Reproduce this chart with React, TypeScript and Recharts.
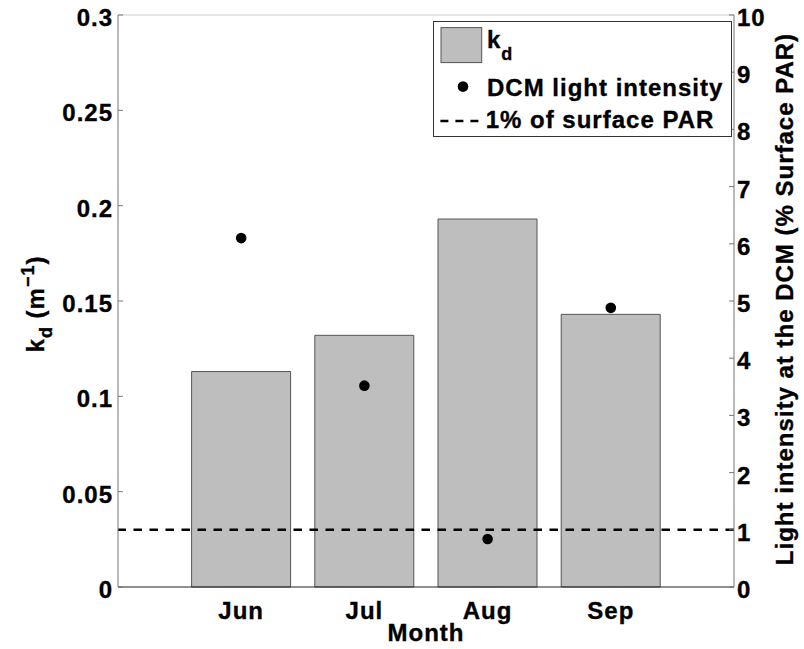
import React from "react";
import {
  ComposedChart, Bar, Scatter, XAxis, YAxis, ReferenceLine, Legend
} from "recharts";

// values
const months = ["Jun", "Jul", "Aug", "Sep"];
const kdValues = [0.113, 0.132, 0.193, 0.143];
const dcmLightValues = [6.1, 3.52, 0.84, 4.88];
const surfaceParLevel = 1;
const kdTicks = [0, 0.05, 0.1, 0.15, 0.2, 0.25, 0.3];
const lightTicks = [0, 1, 2, 3, 4, 5, 6, 7, 8, 9, 10];

const chartData = months.map((month, i) => ({
  month,
  kd: kdValues[i],
  dcm: dcmLightValues[i],
}));

const FONT = '"Liberation Sans", Arial, Helvetica, sans-serif';
const textStyle = {
  fontFamily: FONT, fontWeight: 700, fontSize: 24, letterSpacing: 1,
  fill: "#000", stroke: "#000", strokeWidth: 0.35,
};

const LeftTick = ({ x, y, payload }: any) => (
  <g>
    <line x1={x + 5} x2={x + 10} y1={y} y2={y} stroke="#777" />
    <text x={x} y={y} dy={11} textAnchor="end" style={textStyle}>{payload.value}</text>
  </g>
);

const RightTick = ({ x, y, payload }: any) => (
  <g>
    <line x1={x - 3} x2={x - 8} y1={y} y2={y} stroke="#777" />
    <text x={x} y={y} dy={11} textAnchor="start" style={textStyle}>{payload.value}</text>
  </g>
);

const BottomTick = ({ x, y, payload }: any) => (
  <text x={x} y={y} dy={30} textAnchor="middle" style={textStyle}>{payload.value}</text>
);

const Dot = (props: any) => <circle cx={props.cx} cy={props.cy} r={5.3} fill="#000" />;

const LegendBox = () => (
  <div style={{ width: 299, height: 116, border: "1px solid #333", background: "#fff", boxSizing: "border-box" }}>
    <svg width={297} height={114} style={{ display: "block" }}>
      <rect x={7} y={5.6} width={40.7} height={35} fill="#bebebe" stroke="#555" />
      <text x={53} y={25.6} style={textStyle}>
        k<tspan dy={12} style={{ fontSize: 18 }}>d</tspan>
      </text>
      <circle cx={29} cy={64.6} r={5.3} fill="#000" />
      <text x={53} y={74} style={textStyle}>DCM light intensity</text>
      <line x1={6.4} x2={48.7} y1={99} y2={99} stroke="#000" strokeWidth={2.5} strokeDasharray="8 7" />
      <text x={51.7} y={106} style={textStyle}>1% of surface PAR</text>
    </svg>
  </div>
);

const LeftLabel = () => (
  <text x={44} y={304} transform="rotate(-90 44 304)" textAnchor="middle" style={textStyle}>
    k<tspan dy={8} style={{ fontSize: 18 }}>d</tspan>
    <tspan dy={-8}> (m</tspan>
    <tspan dy={-10} style={{ fontSize: 18 }}>{"\u22121"}</tspan>
    <tspan dy={10}>)</tspan>
  </text>
);

const RightLabel = () => (
  <text x={793} y={299} transform="rotate(-90 793 299)" textAnchor="middle" style={textStyle}>
    Light intensity at the DCM (% Surface PAR)
  </text>
);

export default function App() {
  return (
    <div style={{ position: "absolute", left: 0, top: 0, width: 804, height: 649, background: "#fff" }}>
      <ComposedChart
        width={804}
        height={649}
        data={chartData}
        margin={{ top: 15, right: 0, bottom: 0, left: 0 }}
      >
        <XAxis
          dataKey="month"
          type="category"
          height={62}
          padding={{ left: 61.6, right: 61.6 }}
          tickLine={false}
          tickSize={0}
          tick={<BottomTick />}
          axisLine={{ stroke: "#222", strokeWidth: 1.2 }}
          interval={0}
          label={({ viewBox }: any) => (
            <text x={viewBox.x + viewBox.width / 2} y={641} textAnchor="middle" style={textStyle}>Month</text>
          )}
        />
        <YAxis
          yAxisId="left"
          orientation="left"
          width={118}
          domain={[0, 0.3]}
          ticks={kdTicks}
          interval={0}
          tickLine={false}
          tickSize={0}
          tickMargin={5}
          tick={<LeftTick />}
          axisLine={{ stroke: "#777" }}
          label={<LeftLabel />}
        />
        <YAxis
          yAxisId="right"
          orientation="right"
          width={70}
          domain={[0, 10]}
          ticks={lightTicks}
          interval={0}
          tickLine={false}
          tickSize={0}
          tickMargin={3}
          tick={<RightTick />}
          axisLine={{ stroke: "#777" }}
          label={<RightLabel />}
        />
        <ReferenceLine yAxisId="left" y={0.3} stroke="#cfcfcf" />
        <Bar
          yAxisId="left"
          dataKey="kd"
          name="kd"
          barSize={99}
          fill="#bebebe"
          stroke="#555"
          strokeWidth={1}
          isAnimationActive={false}
        />
        <ReferenceLine
          yAxisId="right"
          y={surfaceParLevel}
          stroke="#000"
          strokeWidth={2.5}
          strokeDasharray="8.5 7.5"
        />
        <Scatter
          yAxisId="right"
          dataKey="dcm"
          name="DCM light intensity"
          fill="#000"
          shape={<Dot />}
          isAnimationActive={false}
        />
        <Legend
          layout="vertical"
          align="center"
          verticalAlign="middle"
          content={() => <LegendBox />}
          wrapperStyle={{ left: 433, top: 21, width: 299, height: 116 }}
        />
      </ComposedChart>
    </div>
  );
}
